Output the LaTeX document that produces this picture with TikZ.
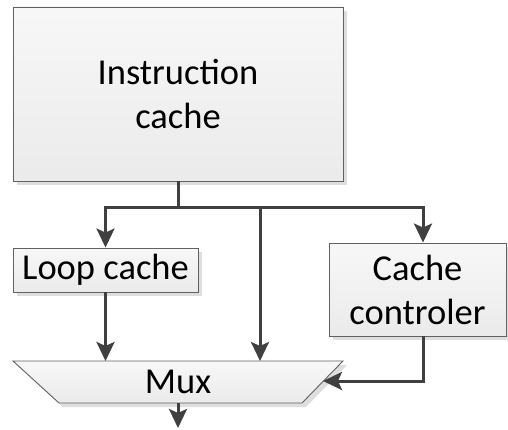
\documentclass[tikz,border=0pt]{standalone}
\usepackage{fontspec}
\setmainfont{Carlito}
\usetikzlibrary{arrows.meta,shadows}
\begin{document}
\begin{tikzpicture}[x=1pt,y=1pt,
  blockshade/.style={draw=black!62, line width=0.9pt, top color=white!97!black, bottom color=black!8,
    drop shadow={shadow xshift=4pt, shadow yshift=-4pt, fill=black!13, opacity=1}},
  block/.style={blockshade, rectangle, inner sep=0pt, align=center,
    font=\fontsize{36.5}{44}\selectfont},
  wire/.style={draw=black!75, line width=3pt, line join=miter},
  arr/.style={wire, -{Stealth[length=19pt, width=18pt, inset=4pt]}}]
\useasboundingbox (0,0) rectangle (508,-430);

% blocks
\node[block, minimum width=330, minimum height=174] (ic) at (178,-94) {Instruction\\cache};
\node[block, minimum width=185, minimum height=44] (loop) at (105.5,-270) {Loop cache};
\node[block, minimum width=177, minimum height=93] (ctrl) at (417.5,-289.5) {Cache\\controler};

% multiplexer
\path[blockshade] (13,-361) -- (343,-361) -- (302,-403) -- (59,-403) -- cycle;
\node[font=\fontsize{36.5}{44}\selectfont] (mux) at (178,-382) {Mux};
\coordinate (mtop) at (178,-361);
\coordinate (mright) at (323,-381);
\coordinate (mbot) at (178,-403);
\coordinate (out) at (178,-428);

% distribution bus
\coordinate (j) at (178,-208);
\coordinate (bm) at (260,-208);
\coordinate (br) at (423,-208);
\draw[wire] (ic.south) -- (j);
\draw[arr] (j) -| (loop.north);
\draw[arr] (j) -| (ctrl.north -| br);
\draw[arr] (bm) -- (mtop -| bm);

% into and out of the multiplexer
\draw[arr] (loop.south) -- (loop.south |- mtop);
\draw[arr] (ctrl.south -| br) |- (mright);
\draw[arr] (mbot) -- (out);
\end{tikzpicture}
\end{document}
